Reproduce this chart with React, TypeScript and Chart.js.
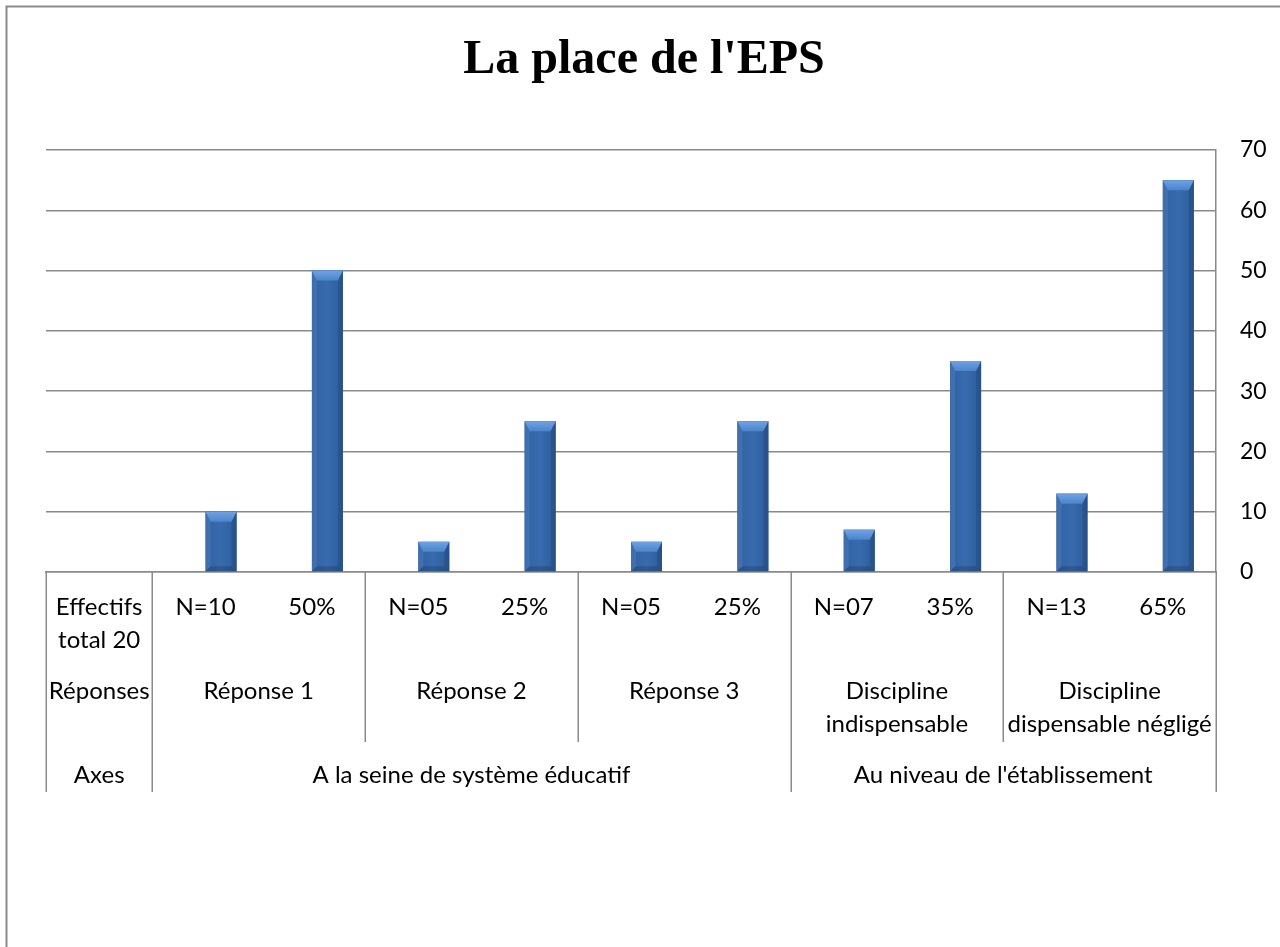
import React, { useEffect, useRef } from "react";
import { Chart, registerables } from "chart.js";

Chart.register(...registerables);

// ---------- data ----------
const chartTitle = "La place de l'EPS";

const level1Labels: string[][] = [
  ["Effectifs", "total 20"],
  ["N=10"],
  ["50%"],
  ["N=05"],
  ["25%"],
  ["N=05"],
  ["25%"],
  ["N=07"],
  ["35%"],
  ["N=13"],
  ["65%"],
];

const emptySeries: (number | null)[] = [null, null, null, null, null, null, null, null, null, null, null];
const values: (number | null)[] = [null, 10, 50, 5, 25, 5, 25, 7, 35, 13, 65];

const level2Labels: string[][] = [
  ["Réponses"],
  ["Réponse 1"],
  ["Réponse 2"],
  ["Réponse 3"],
  ["Discipline", "indispensable"],
  ["Discipline", "dispensable négligé"],
];
const level2Spans: number[] = [1, 2, 2, 2, 2, 2];

const level3Labels: string[][] = [
  ["Axes"],
  ["A la seine de système éducatif"],
  ["Au niveau de l'établissement"],
];
const level3Spans: number[] = [1, 6, 4];

const yMin = 0;
const yMax = 70;
const yStep = 10;

// ---------- style ----------
const W = 1280;
const H = 947;
const GRID = "#8a8a8a";
const LABEL_FONT = "24px Lato";
const TICK_FONT_SIZE = 23;

const cumulative = (spans: number[]) => {
  const out = [0];
  spans.forEach((s) => out.push(out[out.length - 1] + s));
  return out;
};

const poly = (ctx: any, pts: number[][], fill: any) => {
  ctx.fillStyle = fill;
  ctx.beginPath();
  ctx.moveTo(pts[0][0], pts[0][1]);
  for (let i = 1; i < pts.length; i++) ctx.lineTo(pts[i][0], pts[i][1]);
  ctx.closePath();
  ctx.fill();
};

const decorPlugin = {
  id: "decor",
  beforeDraw(chart: any) {
    const ctx = chart.ctx;
    ctx.save();
    ctx.fillStyle = "#ffffff";
    ctx.fillRect(0, 0, W, H);
    ctx.strokeStyle = GRID;
    ctx.lineWidth = 2;
    ctx.strokeRect(6.5, 6.5, W + 20, H + 20);
    ctx.restore();
  },
  afterDatasetsDraw(chart: any) {
    const ctx = chart.ctx;
    const meta = chart.getDatasetMeta(1);
    ctx.save();
    meta.data.forEach((el: any, i: number) => {
      if (values[i] == null) return;
      const { x, y, base, width } = el.getProps(["x", "y", "base", "width"], true);
      const L = x - width / 2;
      const R = x + width / 2;
      const T = Math.min(y, base);
      const B = Math.max(y, base);
      const h = B - T;
      const bt = Math.min(10, h / 2);
      const bs = Math.min(5, width / 2);
      const bb = Math.min(5, h / 2);
      const g = ctx.createLinearGradient(L, 0, R, 0);
      g.addColorStop(0, "#3062a4");
      g.addColorStop(0.5, "#376bae");
      g.addColorStop(1, "#2d5d9c");
      ctx.fillStyle = g;
      ctx.fillRect(L, T, width, h);
      // top bevel
      const gt = ctx.createLinearGradient(0, T, 0, T + bt);
      gt.addColorStop(0, "#6fa2e4");
      gt.addColorStop(1, "#4c84ca");
      poly(ctx, [[L, T], [R, T], [R - bs, T + bt], [L + bs, T + bt]], gt);
      // left bevel
      poly(ctx, [[L, T], [L + bs, T + bt], [L + bs, B - bb], [L, B]], "rgba(255,255,255,0.08)");
      // right bevel
      poly(ctx, [[R, T], [R, B], [R - bs, B - bb], [R - bs, T + bt]], "rgba(0,0,0,0.12)");
      // bottom bevel
      poly(ctx, [[L, B], [L + bs, B - bb], [R - bs, B - bb], [R, B]], "rgba(0,0,0,0.16)");
    });
    ctx.restore();
  },
  afterDraw(chart: any) {
    const ctx = chart.ctx;
    const xs = chart.scales.x;
    const area = chart.chartArea;
    const n = level1Labels.length;
    const edge = (k: number) =>
      k <= 0 ? area.left : k >= n ? area.right : (xs.getPixelForValue(k - 1) + xs.getPixelForValue(k)) / 2;
    const y0 = area.bottom;

    ctx.save();
    // title
    ctx.fillStyle = "#000";
    ctx.font = "bold 48px 'Liberation Serif'";
    ctx.textAlign = "center";
    ctx.textBaseline = "alphabetic";
    ctx.fillText(chartTitle, 644, 73);

    // separators
    const b3 = cumulative(level3Spans);
    const b2 = cumulative(level2Spans);
    ctx.strokeStyle = GRID;
    ctx.lineWidth = 1.5;
    b2.forEach((k) => {
      const full = b3.includes(k);
      const x = Math.round(edge(k)) + 0.25;
      ctx.beginPath();
      ctx.moveTo(x, y0);
      ctx.lineTo(x, y0 + (full ? 220 : 170));
      ctx.stroke();
    });

    // labels
    ctx.font = LABEL_FONT;
    ctx.fillStyle = "#000";
    ctx.textAlign = "center";
    const lineGap = 33;
    level1Labels.forEach((lines, i) => {
      const cx = xs.getPixelForValue(i);
      lines.forEach((t, j) => ctx.fillText(t, cx, y0 + 43 + j * lineGap));
    });
    level2Labels.forEach((lines, i) => {
      const cx = (edge(b2[i]) + edge(b2[i + 1])) / 2;
      lines.forEach((t, j) => ctx.fillText(t, cx, y0 + 127 + j * lineGap));
    });
    level3Labels.forEach((lines, i) => {
      const cx = (edge(b3[i]) + edge(b3[i + 1])) / 2;
      lines.forEach((t, j) => ctx.fillText(t, cx, y0 + 211 + j * lineGap));
    });
    ctx.restore();
  },
};

export default function App() {
  const ref = useRef<HTMLCanvasElement | null>(null);

  useEffect(() => {
    if (!ref.current) return;
    const chart = new Chart(ref.current, {
      type: "bar",
      data: {
        labels: level1Labels.map((l) => l.join(" ")),
        datasets: [
          { label: "empty", data: emptySeries, backgroundColor: "#376bae", borderWidth: 0 },
          { label: "values", data: values, backgroundColor: "#376bae", borderWidth: 0 },
        ],
      },
      options: {
        responsive: false,
        animation: false,
        devicePixelRatio: 1,
        font: { family: "Lato" } as any,
        layout: { padding: { left: 46, top: 150, right: 0, bottom: 0 } },
        datasets: { bar: { categoryPercentage: 0.583, barPercentage: 1 } },
        plugins: {
          legend: { display: false },
          tooltip: { enabled: false },
          title: { display: false },
        },
        scales: {
          x: {
            type: "category",
            grid: { display: false },
            ticks: { display: false },
            border: { display: true, color: GRID, width: 1.5 },
            afterFit: (s: any) => {
              s.height = H - 572;
            },
          },
          y: {
            position: "right",
            min: yMin,
            max: yMax,
            ticks: {
              stepSize: yStep,
              color: "#000",
              padding: 24,
              font: { family: "Lato", size: TICK_FONT_SIZE },
            },
            grid: { color: GRID, lineWidth: 1.5, drawTicks: false },
            border: { display: true, color: GRID, width: 1.5 },
            afterFit: (s: any) => {
              s.width = W - 1216;
            },
          },
        },
      },
      plugins: [decorPlugin],
    } as any);
    const fonts: any = (document as any).fonts;
    if (fonts && fonts.load) {
      Promise.all([fonts.load(LABEL_FONT), fonts.load("bold 48px 'Liberation Serif'")])
        .then(() => chart.update())
        .catch(() => {});
    }
    return () => chart.destroy();
  }, []);

  return (
    <div style={{ position: "fixed", left: 0, top: 0, width: W, height: H, background: "#fff" }}>
      <canvas ref={ref} width={W} height={H} style={{ display: "block", width: W, height: H }} />
    </div>
  );
}
